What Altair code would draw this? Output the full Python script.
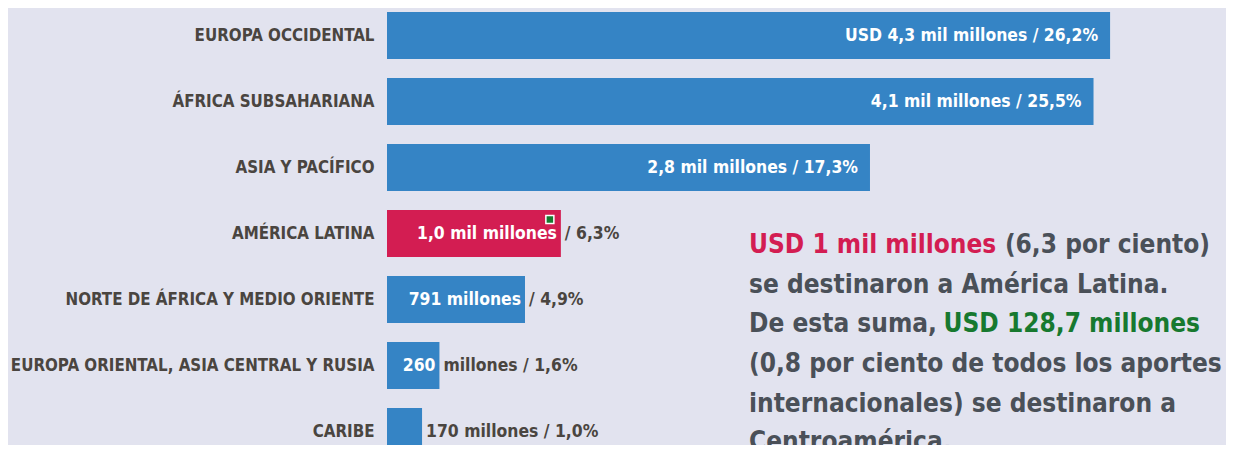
import altair as alt
import pandas as pd

# ---- data ----
regions = [
    "EUROPA OCCIDENTAL",
    "ÁFRICA SUBSAHARIANA",
    "ASIA Y PACÍFICO",
    "AMÉRICA LATINA",
    "NORTE DE ÁFRICA Y MEDIO ORIENTE",
    "EUROPA ORIENTAL, ASIA CENTRAL Y RUSIA",
    "CARIBE",
]
# bar length (share of total, %) as drawn
bar_share = [26.2, 25.6, 17.5, 6.3, 5.0, 1.9, 1.27]
label_inside = [
    "USD 4,3 mil millones / 26,2%",
    "4,1 mil millones / 25,5%",
    "2,8 mil millones / 17,3%",
    "1,0 mil millones",
    "791 millones",
    "260",
    "",
]
label_outside = ["", "", "", "/ 6,3%", "/ 4,9%", "millones / 1,6%", "170 millones / 1,0%"]
highlight_region = "AMÉRICA LATINA"

# ---- styles ----
FONT = "'Liberation Sans Narrow', 'DejaVu Sans Condensed', 'Open Sans', sans-serif"
BG = "#e2e3ef"
BLUE = "#3584c5"
CRIMSON = "#d31d52"
GREEN = "#17792f"
LABEL_GRAY = "#4a4540"
NOTE_GRAY = "#4a5058"

df = pd.DataFrame({
    "region": regions,
    "share": bar_share,
    "inside": label_inside,
    "outside": label_outside,
})

base = alt.Chart(df)

y_enc = alt.Y(
    "region:N",
    sort=regions,
    scale=alt.Scale(range=[-5.5, 456.5], paddingInner=0.288, paddingOuter=0.144),
    axis=alt.Axis(
        title=None, domain=False, ticks=False, grid=False,
        labelPadding=13, labelFont=FONT, labelFontSize=16.8,
        labelFontWeight="bold", labelColor=LABEL_GRAY, labelLimit=0,
    ),
)
x_enc = alt.X("share:Q", scale=alt.Scale(domain=[0, 30.4]), axis=None)

bars = base.mark_bar().encode(
    x=x_enc,
    y=y_enc,
    color=alt.condition(alt.datum.region == highlight_region, alt.value(CRIMSON), alt.value(BLUE)),
)

txt_style = dict(font=FONT, fontSize=17.4, fontWeight="bold", baseline="middle")

t_full = base.transform_filter(alt.datum.outside == "").mark_text(
    align="right", dx=-12, color="white", **txt_style
).encode(x=x_enc, y=y_enc, text="inside:N")

t_split_in = base.transform_filter(alt.datum.outside != "").mark_text(
    align="right", dx=-4, color="white", **txt_style
).encode(x=x_enc, y=y_enc, text="inside:N")

t_split_out = base.transform_filter(alt.datum.outside != "").mark_text(
    align="left", dx=4, color=LABEL_GRAY, **txt_style
).encode(x=x_enc, y=y_enc, text="outside:N")

marker = base.transform_filter(alt.datum.region == highlight_region).mark_square(
    size=64, color=GREEN, opacity=1, stroke="white", strokeWidth=1.5, xOffset=-11, yOffset=-14
).encode(x=x_enc, y=y_enc)

# ---- annotation text (segments with their own colours) ----
note_segments = [
    ("USD 1 mil millones", CRIMSON, "left", 362, 245),
    ("(6,3 por ciento)", NOTE_GRAY, "right", 823, 245),
    ("se destinaron a América Latina.", NOTE_GRAY, "left", 362, 285),
    ("De esta suma,", NOTE_GRAY, "left", 362, 324),
    ("USD 128,7 millones", GREEN, "right", 813, 324),
    ("(0,8 por ciento de todos los aportes", NOTE_GRAY, "left", 362, 364),
    ("internacionales) se destinaron a", NOTE_GRAY, "left", 362, 404),
    ("Centroamérica.", NOTE_GRAY, "left", 362, 442),
]
notes = []
for text, col, al, px, py in note_segments:
    notes.append(
        alt.Chart(df).transform_filter(alt.datum.region == regions[0]).mark_text(
            text=text, align=al, baseline="alphabetic", font=FONT, fontSize=26,
            fontWeight="bold", color=col,
        ).encode(x=alt.value(px), y=alt.value(py))
    )

chart = alt.layer(bars, t_full, t_split_in, t_split_out, marker, *notes).properties(
    width=839,
    height=437,
    background=BG,
    padding={"left": 379, "top": 0, "right": 0, "bottom": 0},
    autosize=alt.AutoSizeParams(type="none"),
).configure_view(stroke=None)

chart.save("out.html", embed_options={"renderer": "svg", "actions": False})
